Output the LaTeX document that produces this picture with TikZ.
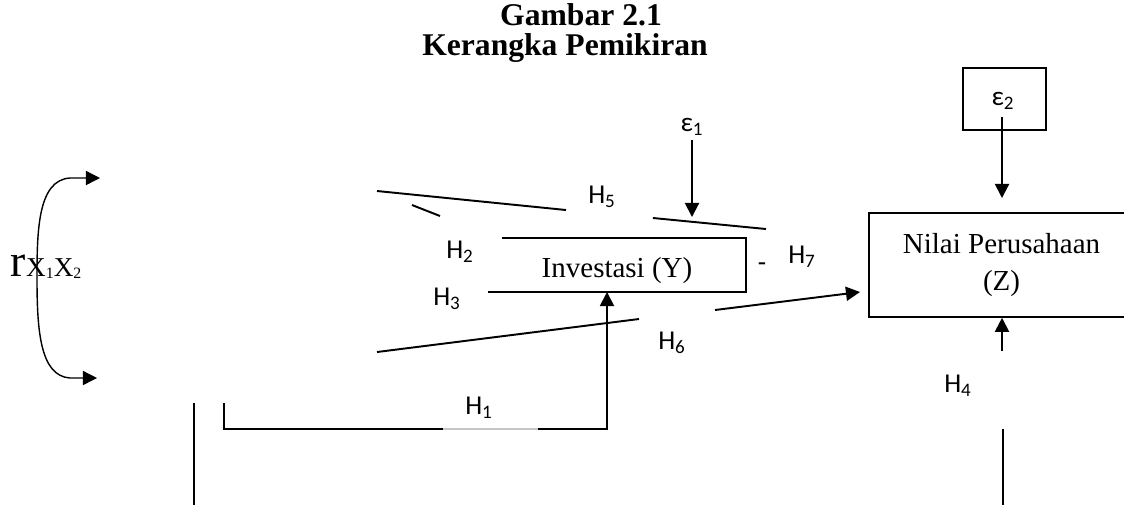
\documentclass[tikz,border=0pt]{standalone}
\usepackage{fontspec}
\setmainfont{Liberation Serif}
\newfontfamily\calibri{Carlito}
\usetikzlibrary{positioning,arrows.meta}

\begin{document}
\begin{tikzpicture}[
  x=0.02cm, y=-0.02cm, line width=1.1pt,
  tip/.style={-{Triangle[length=8pt,width=8pt]}},
  arr/.style={tip, line width=1.1pt},
  frame/.style={line width=0.9pt},
  lbl/.style={font=\calibri\fontsize{15.5}{18}\selectfont, inner sep=0pt},
  txt/.style={font=\fontsize{16.5}{21}\selectfont, align=center, inner sep=0pt}]
\useasboundingbox (0,0) rectangle (1124,505);
% title
\node[font=\bfseries\fontsize{18}{20}\selectfont, anchor=base] (title) at (581,25) {Gambar 2.1};
\node[font=\bfseries\fontsize{18}{20}\selectfont, anchor=base] (subtitle) at (565,55) {Kerangka Pemikiran};
% boxes
\node[draw, frame, minimum width=1.66cm, minimum height=1.24cm] (e2box) at (1004.5,99) {};
\node[lbl] (e2) at (1003,101) {ε\textsubscript{2}};
\node[lbl] (e1) at (692,127) {ε\textsubscript{1}};
\node[draw, frame, txt, minimum width=5.3cm, minimum height=2.08cm] (nilai) at (1001.5,265) {Nilai Perusahaan\\(Z)};
\node[txt, anchor=base] (inv) at (617,277) {Investasi (Y)};
\draw[frame] (502,238) -- (746,238) -- (746,292) -- (488,292);
\node[anchor=base west, inner sep=0pt] (rx) at (10,276) {\fontsize{26}{26}\selectfont r\fontsize{15.5}{15}\selectfont X\raisebox{-1.5pt}{\fontsize{9}{9}\selectfont 1}X\raisebox{-1.5pt}{\fontsize{9}{9}\selectfont 2}};
% labels
\node[lbl] (h5) at (602,197) {H\textsubscript{5}};
\node[lbl] (h2) at (460,252) {H\textsubscript{2}};
\node[lbl] (h3) at (447,299) {H\textsubscript{3}};
\node[lbl] (h7) at (802,257) {H\textsubscript{7}};
\node[lbl] (minus) at (762,267) {-};
\node[lbl] (h6) at (672,343) {H\textsubscript{6}};
\node[lbl] (h1) at (479,408) {H\textsubscript{1}};
\node[lbl] (h4) at (958,386) {H\textsubscript{4}};
% connector ends
\coordinate (e2a) at (1002,117); \coordinate (e2b) at (1002,198);
\coordinate (e1b) at (692,217);
\coordinate (h4a) at (1002,351);
\coordinate (x2a) at (1003,429); \coordinate (x2b) at (1003,505);
\coordinate (x1a) at (194,403); \coordinate (x1b) at (194,505);
\coordinate (h1a) at (224,403); \coordinate (h1b) at (443,429); \coordinate (h1c) at (538,429);
\coordinate (h1d) at (607,292);
\coordinate (h5a) at (377,191); \coordinate (h5b) at (566,210);
\coordinate (h5c) at (653,218); \coordinate (h5d) at (766,229);
\coordinate (h2a) at (412,205); \coordinate (h2b) at (440,216);
\coordinate (h6a) at (377,352); \coordinate (h6b) at (639,319);
\coordinate (h6c) at (715,310); \coordinate (h6d) at (860,292);
\coordinate (rtop) at (100,178); \coordinate (rbot) at (97,378);
% connectors
\draw[arr] (e2a) -- (e2b);
\draw[arr] ([yshift=-2pt]e1.south) -- (e1b);
\draw[arr] (h4a) -- (h4a |- nilai.south);
\draw (x2a) -- (x2b);
\draw (x1a) -- (x1b);
\draw (h1a) |- (h1b);
\draw[gray!45, line width=0.6pt] (h1b) -- (h1c);
\draw[arr] (h1c) -| (h1d);
\draw (h5a) -- (h5b); \draw (h5c) -- (h5d);
\draw (h2a) -- (h2b);
\draw (h6a) -- (h6b); \draw[arr] (h6c) -- (h6d);
\draw[{Triangle[length=8pt,width=8pt]}-{Triangle[length=8pt,width=8pt]}, line width=0.8pt]
  (rtop) -- (70,178) .. controls (38,180) and (37,230) .. (37,278)
  .. controls (37,330) and (40,376) .. (70,378) -- (rbot);
\end{tikzpicture}
\end{document}
